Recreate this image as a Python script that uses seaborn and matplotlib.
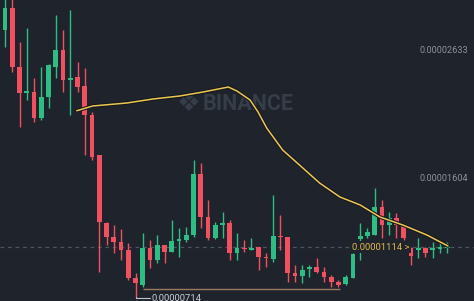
import numpy as np
import pandas as pd
import matplotlib
matplotlib.use("Agg")
import matplotlib.pyplot as plt
import matplotlib.patheffects as pe
import seaborn as sns

SCALE = 1e-8
# OHLC values in units of 1e-8
opens = [2854, 3031, 2558, 2349, 2357, 2149, 2317, 2558, 2694, 2453, 2477, 2405, 2173, 1852,
         1306, 1194, 1154, 1090, 865, 809, 1106, 1010, 1130, 1074, 1162, 1170, 1210, 1699,
         1355, 1186, 1290, 1306, 1066, 1106, 1090, 1114, 1034, 1018, 1202, 1194, 905, 881,
         938, 954, 913, 873, 833, 817, 865, 1178, 1202, 1210, 1435, 1290, 1347, 1290, 1106,
         1090, 1106, 1090, 1098, 1106]
closes = [3031, 2558, 2349, 2365, 2149, 2317, 2574, 2694, 2453, 2469, 2397, 2173, 1836, 1315,
          1194, 1154, 1090, 865, 825, 1106, 1010, 1130, 1074, 1162, 1178, 1210, 1699, 1355,
          1186, 1290, 1306, 1066, 1106, 1098, 1106, 1034, 1026, 1202, 1194, 905, 881, 930,
          954, 913, 873, 833, 809, 873, 1058, 1202, 1234, 1435, 1290, 1347, 1290, 1186, 1042,
          1106, 1066, 1106, 1114, 1114]
highs = [3135, 3135, 2758, 2870, 2469, 2558, 2582, 2975, 2854, 3015, 2598, 2550, 2197, 1852,
         1315, 1290, 1258, 1146, 905, 1226, 1170, 1210, 1134, 1331, 1266, 1274, 1812, 1788,
         1491, 1315, 1395, 1331, 1226, 1170, 1186, 1114, 1066, 1531, 1371, 1194, 970, 970,
         970, 1026, 954, 889, 849, 889, 1066, 1306, 1266, 1587, 1491, 1395, 1387, 1290, 1114,
         1186, 1114, 1154, 1154, 1154]
lows = [2718, 2518, 2076, 2293, 2117, 2133, 2229, 2469, 2357, 2173, 2357, 1852, 1812, 914,
        1130, 1066, 1010, 849, 714, 793, 946, 986, 986, 1070, 1034, 1154, 1194, 1266, 1170,
        1180, 1186, 1010, 1010, 1074, 1090, 930, 954, 994, 1090, 833, 833, 825, 873, 905,
        833, 793, 793, 809, 865, 1010, 1186, 1210, 1186, 1210, 1186, 1170, 970, 1026, 1034,
        1026, 1066, 1066]

# moving average line, read at candle positions
ma_pos = [9.9, 12.1, 16.8, 20.4, 24.1, 27.3, 30.8, 32.0, 33.8, 34.9, 36.1, 38.3, 43.4,
          46.2, 49.0, 51.7, 54.9, 58.2, 61.1]
ma_val = [2207, 2245, 2269, 2301, 2325, 2357, 2397, 2365, 2293, 2197, 2068, 1892, 1627,
          1515, 1451, 1355, 1290, 1210, 1122]

axis_labels = ["0.00002633", "0.00001604"]
axis_values = [2633, 1604]
last_price = 1114
last_label = "0.00001114"
min_price = 714
min_label = "0.00000714"
min_index = 18
band_price = 777
band_start, band_end = 19.0, 46.2

BG = "#1e232c"
GREEN = "#2ebd85"
RED = "#f0505f"

sns.set_theme(style="dark")
plt.rcParams["font.family"] = ["Roboto", "DejaVu Sans"]

fig = plt.figure(figsize=(4.74, 3.01), dpi=100)
fig.patch.set_facecolor(BG)
ax = fig.add_axes([0, 0, 1, 1])
ax.set_facecolor(BG)

df = pd.DataFrame({"open": np.array(opens) * SCALE, "close": np.array(closes) * SCALE,
                   "high": np.array(highs) * SCALE, "low": np.array(lows) * SCALE})
df["idx"] = np.arange(len(df))
df["up"] = df["close"] >= df["open"]
colors = np.where(df["up"], GREEN, RED)

ax.vlines(df["idx"], df["low"], df["high"], colors=colors, linewidth=1.0, zorder=2)
bottom = np.minimum(df["open"], df["close"])
height = np.maximum(np.abs(df["close"] - df["open"]), 10 * SCALE)
ax.bar(df["idx"], height, bottom=bottom, width=0.68, color=colors, linewidth=0, zorder=3)

# watermark
ax.text(0.372, 0.655, "\u2756", transform=ax.transAxes, fontsize=19, color="#363d48",
        ha="left", va="center", family="DejaVu Sans", zorder=1)
ax.text(0.428, 0.655, "BINANCE", transform=ax.transAxes, fontsize=15.5, color="#363d48",
        ha="left", va="center", fontweight="bold", zorder=1)

# MA line
ma_df = pd.DataFrame({"x": ma_pos, "y": np.array(ma_val) * SCALE})
sns.lineplot(data=ma_df, x="x", y="y", ax=ax, color="#ecc651", linewidth=1.1, zorder=5,
             path_effects=[pe.Stroke(linewidth=2.6, foreground="#15181d"), pe.Normal()])

# current price dashed line
ax.axhline(last_price * SCALE, color="#4d5562", linewidth=0.9, dashes=(3, 3), zorder=1)
ax.text(47.9, last_price * SCALE, last_label + " >", fontsize=6.8, color="#e0b84a",
        ha="left", va="center", zorder=6,
        bbox=dict(boxstyle="square,pad=0.15", facecolor=BG, edgecolor="none"))

# band line
ax.hlines(band_price * SCALE, band_start, band_end, color="#9a7a5c", linewidth=1.0, zorder=1)

# min marker
yb = (min_price - 9) * SCALE
ax.plot([min_index, min_index, 20.0], [min_price * SCALE, yb, yb], color="#c0c4cc",
        linewidth=0.8, zorder=4)
ax.text(20.2, yb, min_label, fontsize=6.8, color="#c8ccd3", ha="left", va="center", zorder=6)

# right axis labels
for lab, v in zip(axis_labels, axis_values):
    ax.annotate(lab, xy=(1, v * SCALE), xycoords=("axes fraction", "data"),
                xytext=(-6, 3), textcoords="offset pixels", ha="right", va="bottom",
                fontsize=6.6, color="#8a919c")

ax.set_xlim(-0.69, 64.69)
ax.set_ylim(681 * SCALE, 3095 * SCALE)
ax.set_xticks([])
ax.set_yticks([])
ax.set_xlabel("")
ax.set_ylabel("")
for s in ax.spines.values():
    s.set_visible(False)
ax.grid(False)

fig.savefig("out.png", dpi=100, facecolor=BG)
